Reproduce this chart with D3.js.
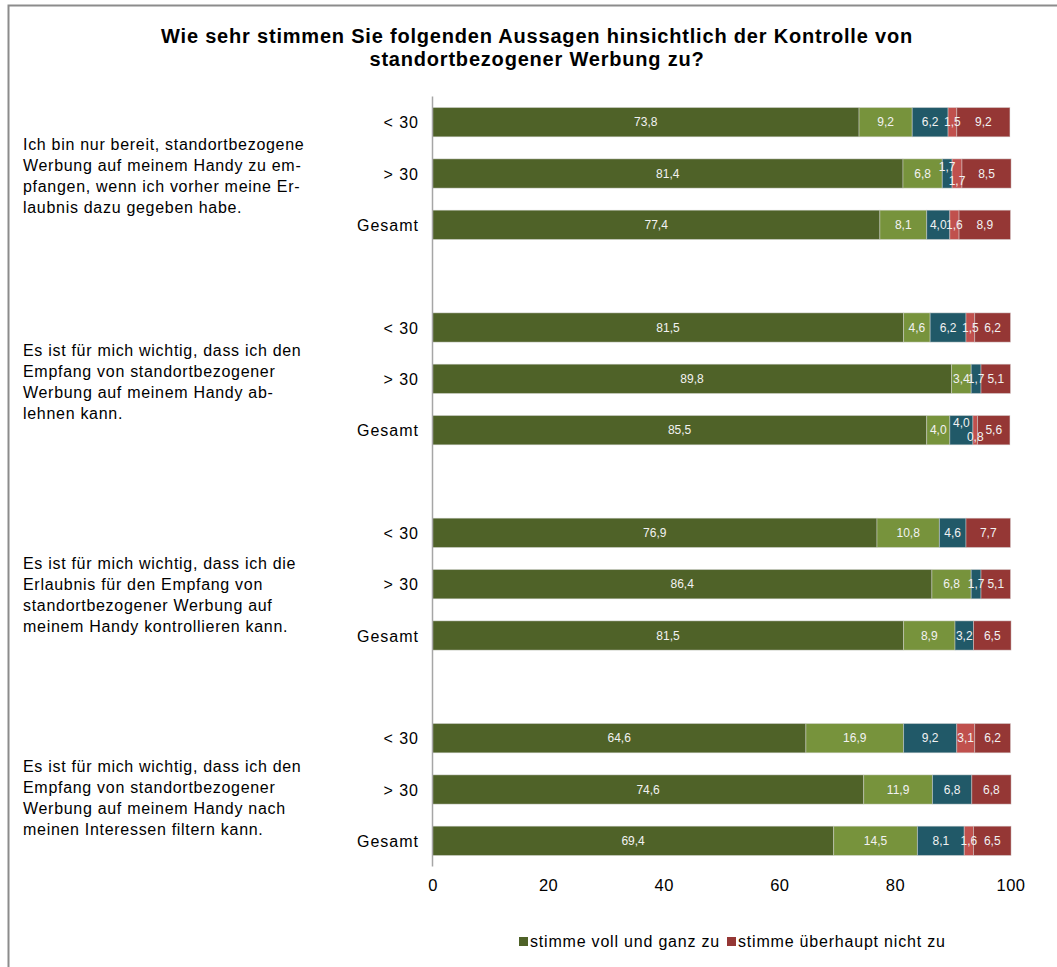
<!DOCTYPE html>
<html>
<head>
<meta charset="utf-8">
<script src="https://cdn.jsdelivr.net/npm/d3@7"></script>
<style>
  html, body { margin: 0; padding: 0; background: #fff; }
  svg { display: block; font-family: "Liberation Sans", Arial, sans-serif; }
</style>
</head>
<body>
<svg id="chart" width="1057" height="967"></svg>
<script>
// Survey statements (left-hand text, pre-wrapped as printed)
const questions = [
  ["Ich bin nur bereit, standortbezogene", "Werbung auf meinem Handy zu em-", "pfangen, wenn ich vorher meine Er-", "laubnis dazu gegeben habe."],
  ["Es ist für mich wichtig, dass ich den", "Empfang von standortbezogener", "Werbung auf meinem Handy ab-", "lehnen kann."],
  ["Es ist für mich wichtig, dass ich die", "Erlaubnis für den Empfang von", "standortbezogener Werbung auf", "meinem Handy kontrollieren kann."],
  ["Es ist für mich wichtig, dass ich den", "Empfang von standortbezogener", "Werbung auf meinem Handy nach", "meinen Interessen filtern kann."]
];

// Age groups shown per statement
const groups = ["< 30", "> 30", "Gesamt"];

// Answer scale, from full agreement to full disagreement
const seriesNames = ["stimme voll und ganz zu", "stimme eher zu", "stimme eher nicht zu", "stimme nicht zu", "stimme überhaupt nicht zu"];
const seriesColors = ["#4f6228", "#77933c", "#215968", "#c0504d", "#953735"];

// Percentages per series: each array lists 12 rows (statement 1 <30, >30, Gesamt, statement 2 ...)
const stimmeVoll       = [73.8, 81.4, 77.4, 81.5, 89.8, 85.5, 76.9, 86.4, 81.5, 64.6, 74.6, 69.4];
const stimmeEher       = [ 9.2,  6.8,  8.1,  4.6,  3.4,  4.0, 10.8,  6.8,  8.9, 16.9, 11.9, 14.5];
const stimmeEherNicht  = [ 6.2,  1.7,  4.0,  6.2,  1.7,  4.0,  4.6,  1.7,  3.2,  9.2,  6.8,  8.1];
const stimmeNicht      = [ 1.5,  1.7,  1.6,  1.5,  0.0,  0.8,  0.0,  0.0,  0.0,  3.1,  0.0,  1.6];
const stimmeUeberhaupt = [ 9.2,  8.5,  8.9,  6.2,  5.1,  5.6,  7.7,  5.1,  6.5,  6.2,  6.8,  6.5];
const seriesValues = [stimmeVoll, stimmeEher, stimmeEherNicht, stimmeNicht, stimmeUeberhaupt];

const xTicks = [0, 20, 40, 60, 80, 100];

// Labels of narrow neighbouring segments are staggered vertically (row index, series index, shift)
const labelStagger = [[1, 2, -7], [1, 3, 7], [5, 2, -7], [5, 3, 7]];
// Fine vertical shift of each statement block relative to its middle row
const questionShift = [2, 3, 11, 8];

const svg = d3.select("#chart");
const W = 1057, H = 967;

// Outer chart frame (right and bottom edges run off the canvas)
svg.append("rect")
  .attr("x", 8.5).attr("y", 5.5)
  .attr("width", W + 20).attr("height", H + 20)
  .attr("fill", "#fff").attr("stroke", "#8c8c8c").attr("stroke-width", 2);

// Title
svg.append("text")
  .attr("x", 537).attr("y", 43)
  .attr("text-anchor", "middle")
  .attr("font-size", 20).attr("font-weight", "bold").attr("fill", "#000")
  .attr("letter-spacing", 0.8)
  .selectAll("tspan")
  .data(["Wie sehr stimmen Sie folgenden Aussagen hinsichtlich der Kontrolle von", "standortbezogener Werbung zu?"])
  .join("tspan")
  .attr("x", 537)
  .attr("dy", (d, i) => i === 0 ? 0 : 23)
  .text(d => d);

// Row keys: 3 rows per statement, with a spacer row between statements
const rowKeys = [];
questions.forEach((q, qi) => {
  groups.forEach((g, gi) => rowKeys.push(`r${qi}-${gi}`));
  if (qi < questions.length - 1) rowKeys.push(`gap${qi}`);
});

const x = d3.scaleLinear().domain([0, 100]).range([432.5, 1010.5]);
const y = d3.scaleBand().domain(rowKeys).range([96.5, 866.5])
  .paddingInner(0.43).paddingOuter(0.215);

// Row records built from the series arrays
const rows = [];
questions.forEach((q, qi) => {
  groups.forEach((g, gi) => {
    const idx = qi * groups.length + gi;
    rows.push({ key: `r${qi}-${gi}`, idx, group: g, values: seriesValues.map(s => s[idx]) });
  });
});

const stack = d3.stack().keys(d3.range(seriesValues.length)).value((d, k) => d.values[k]);
const stacked = stack(rows);

// Bars
const layer = svg.append("g").selectAll("g")
  .data(stacked)
  .join("g")
  .attr("fill", (d, i) => seriesColors[i]);

layer.selectAll("rect")
  .data(d => d.filter(p => p[1] - p[0] > 0))
  .join("rect")
  .attr("x", p => x(p[0]))
  .attr("y", p => y(p.data.key))
  .attr("width", p => x(p[1]) - x(p[0]))
  .attr("height", y.bandwidth())
  .attr("stroke", "#d9d9d9").attr("stroke-opacity", 0.45).attr("stroke-width", 1);

// Value labels inside the segments
const fmt = v => v.toFixed(1).replace(".", ",");
stacked.forEach((s, si) => {
  svg.append("g").selectAll("text")
    .data(s.filter(p => p.data.values[si] > 0))
    .join("text")
    .attr("x", p => x((p[0] + p[1]) / 2))
    .attr("y", p => {
      const st = labelStagger.find(l => l[0] === p.data.idx && l[1] === si);
      return y(p.data.key) + y.bandwidth() / 2 + 4 + (st ? st[2] : 0);
    })
    .attr("text-anchor", "middle")
    .attr("font-size", 12)
    .attr("fill", "#f2f2f2")
    .text(p => fmt(p.data.values[si]));
});

// Vertical category axis line
svg.append("line")
  .attr("x1", 432.5).attr("x2", 432.5)
  .attr("y1", 96.5).attr("y2", 866.5)
  .attr("stroke", "#a6a6a6").attr("stroke-width", 1.5);

// Age group labels
svg.append("g").selectAll("text")
  .data(rows)
  .join("text")
  .attr("x", 419)
  .attr("y", d => y(d.key) + y.bandwidth() / 2 + 6)
  .attr("text-anchor", "end")
  .attr("font-size", 16).attr("letter-spacing", 1).attr("fill", "#000")
  .text(d => d.group);

// Statement texts, centred on the middle row of each block
questions.forEach((lines, qi) => {
  const mid = y(`r${qi}-1`) + y.bandwidth() / 2 + questionShift[qi];
  const lh = 21;
  svg.append("text")
    .attr("font-size", 16).attr("letter-spacing", 0.7).attr("fill", "#000")
    .selectAll("tspan")
    .data(lines)
    .join("tspan")
    .attr("x", 23)
    .attr("y", (d, i) => mid + (i - (lines.length - 1) / 2) * lh + 5.5)
    .text(d => d);
});

// Value axis tick labels (no axis line)
const xAxis = d3.axisBottom(x).tickValues(xTicks).tickSize(0).tickPadding(0).tickFormat(d3.format("d"));
const gx = svg.append("g").attr("transform", "translate(0,879)").call(xAxis);
gx.select(".domain").remove();
gx.selectAll("text").attr("font-size", 16.5).attr("letter-spacing", 0.5).attr("fill", "#000")
  .attr("font-family", "'Liberation Sans', Arial, sans-serif");

// Legend: first and last answer category
const legendItems = [0, 4];
const legendX = [519, 727];
const lg = svg.append("g");
legendItems.forEach((si, i) => {
  lg.append("rect")
    .attr("x", legendX[i]).attr("y", 937)
    .attr("width", 9).attr("height", 9)
    .attr("fill", seriesColors[si]);
  lg.append("text")
    .attr("x", legendX[i] + 11).attr("y", 947)
    .attr("font-size", 16).attr("letter-spacing", 0.8).attr("fill", "#000")
    .text(seriesNames[si]);
});
</script>
</body>
</html>
